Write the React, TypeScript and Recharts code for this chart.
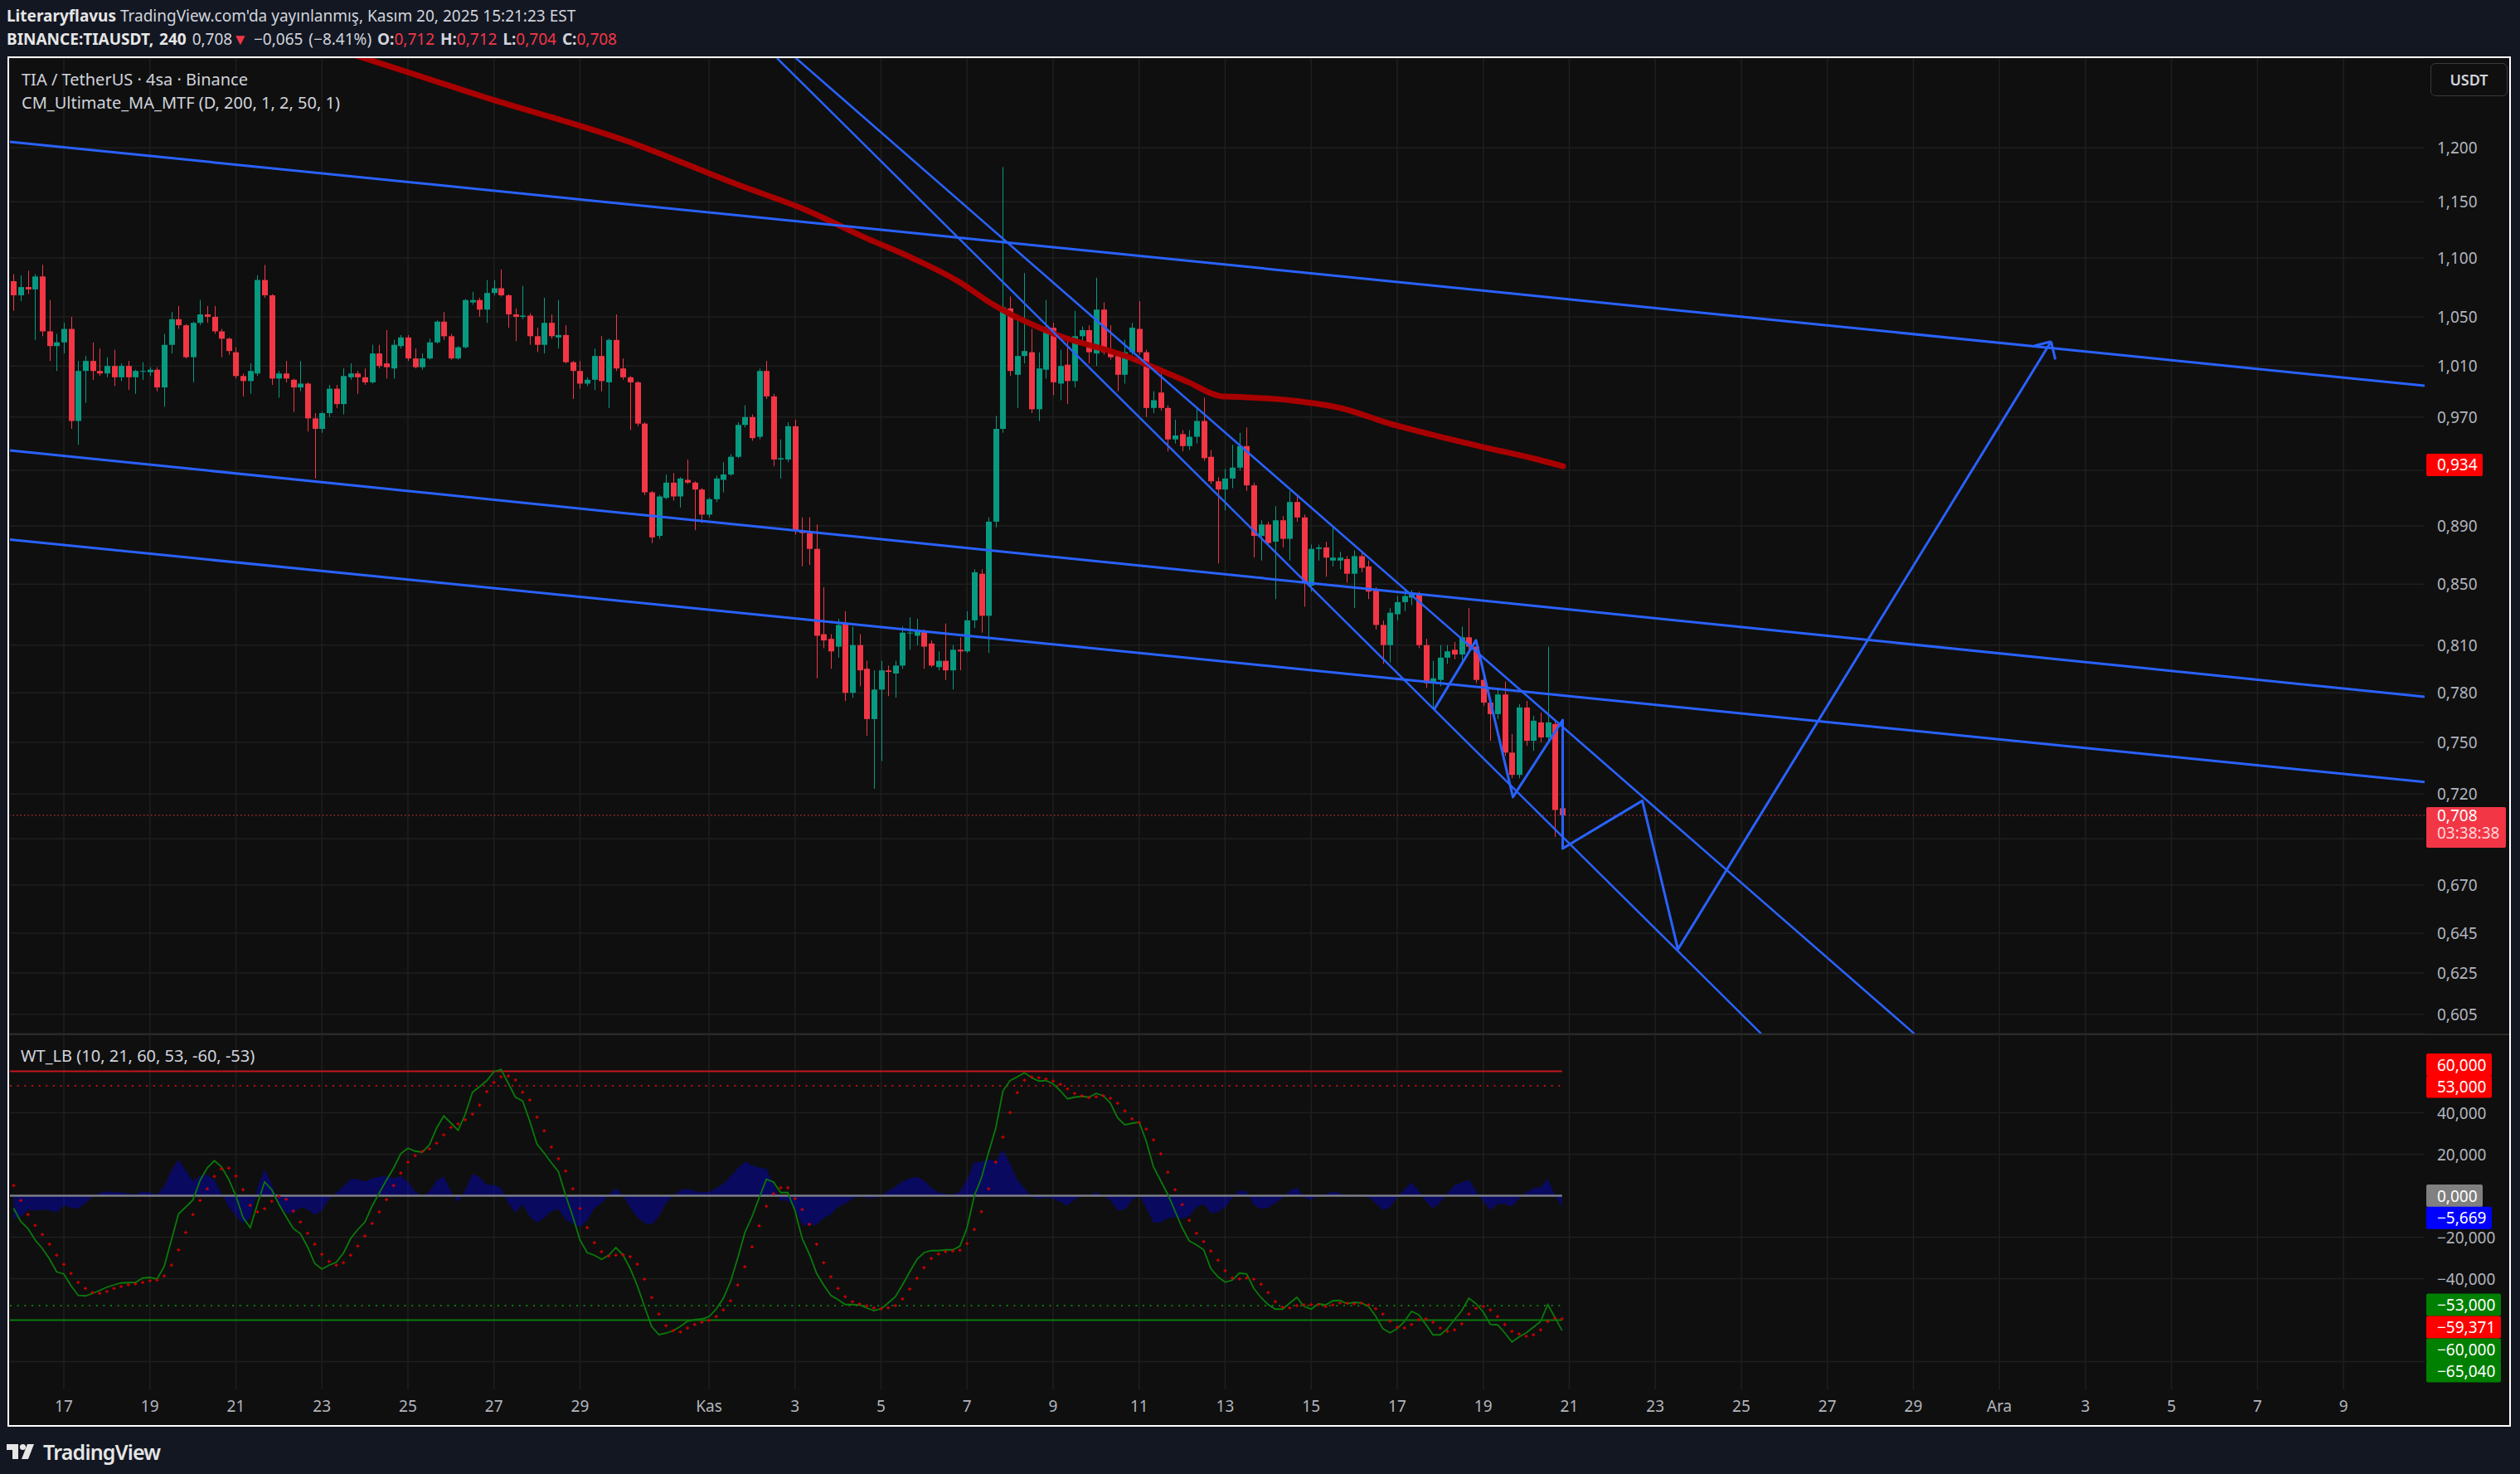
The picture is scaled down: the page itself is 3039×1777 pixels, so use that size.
import React from 'react';
import { ComposedChart, Bar, Line, Area, XAxis, YAxis, ReferenceLine, CartesianGrid } from 'recharts';

// TIA/USDT 4h candles, Binance. Time axis: days since 17 Oct 00:00
const firstCandleDay = -7 / 6;
const candleStep = 1 / 6;

// [open, high, low, close]
const ohlc: [number, number, number, number][] = [
  [1.080, 1.086, 1.055, 1.068], [1.068, 1.085, 1.063, 1.075], [1.075, 1.089, 1.069, 1.073], [1.073, 1.086, 1.031, 1.084],
  [1.084, 1.094, 1.034, 1.038], [1.038, 1.064, 1.014, 1.026], [1.026, 1.036, 1.006, 1.029], [1.029, 1.045, 1.020, 1.040],
  [1.040, 1.050, 0.961, 0.967], [0.967, 1.014, 0.949, 1.006], [1.006, 1.018, 0.981, 1.014], [1.014, 1.029, 0.999, 1.006],
  [1.006, 1.024, 1.002, 1.004], [1.004, 1.017, 1.001, 1.010], [1.010, 1.023, 0.994, 1.001], [1.001, 1.012, 0.998, 1.010],
  [1.010, 1.014, 0.991, 1.001], [1.001, 1.007, 0.988, 1.006], [1.006, 1.013, 0.999, 1.006], [1.005, 1.009, 1.002, 1.007],
  [1.007, 1.009, 0.990, 0.993], [0.993, 1.036, 0.978, 1.027], [1.027, 1.054, 1.020, 1.048], [1.048, 1.059, 1.040, 1.043],
  [1.043, 1.044, 1.016, 1.017], [1.017, 1.046, 0.997, 1.045], [1.045, 1.064, 1.043, 1.052], [1.052, 1.059, 1.045, 1.050],
  [1.050, 1.059, 1.036, 1.038], [1.038, 1.040, 1.017, 1.032], [1.032, 1.033, 1.019, 1.022], [1.021, 1.025, 1.000, 1.002],
  [1.002, 1.004, 0.986, 0.998], [0.998, 1.012, 0.988, 1.006], [1.004, 1.085, 1.002, 1.081], [1.081, 1.094, 1.066, 1.068],
  [1.068, 1.069, 0.995, 1.000], [1.000, 1.006, 0.985, 1.004], [1.004, 1.014, 0.997, 1.000], [0.999, 1.000, 0.974, 0.993],
  [0.993, 1.014, 0.990, 0.996], [0.996, 0.997, 0.959, 0.969], [0.969, 0.973, 0.924, 0.961], [0.961, 0.974, 0.958, 0.973],
  [0.973, 0.995, 0.970, 0.992], [0.992, 0.995, 0.977, 0.980], [0.980, 1.008, 0.972, 1.002], [1.001, 1.012, 0.999, 1.004],
  [1.004, 1.006, 0.988, 1.001], [1.001, 1.008, 0.995, 0.997], [0.997, 1.027, 0.996, 1.020], [1.020, 1.027, 1.008, 1.010],
  [1.012, 1.039, 1.000, 1.009], [1.008, 1.031, 1.000, 1.027], [1.026, 1.035, 1.024, 1.033], [1.033, 1.035, 1.014, 1.016],
  [1.016, 1.024, 1.008, 1.009], [1.009, 1.020, 1.007, 1.016], [1.016, 1.032, 1.015, 1.029], [1.029, 1.047, 1.028, 1.046],
  [1.046, 1.054, 1.031, 1.034], [1.034, 1.036, 1.015, 1.016], [1.016, 1.026, 1.015, 1.025], [1.025, 1.065, 1.024, 1.064],
  [1.062, 1.071, 1.060, 1.064], [1.064, 1.066, 1.050, 1.056], [1.056, 1.081, 1.045, 1.070], [1.070, 1.081, 1.068, 1.074],
  [1.074, 1.090, 1.067, 1.068], [1.068, 1.069, 1.041, 1.052], [1.052, 1.057, 1.030, 1.050], [1.050, 1.076, 1.048, 1.051],
  [1.051, 1.053, 1.027, 1.034], [1.034, 1.041, 1.021, 1.027], [1.027, 1.066, 1.020, 1.045], [1.045, 1.052, 1.032, 1.034],
  [1.033, 1.064, 1.024, 1.035], [1.035, 1.043, 1.012, 1.013], [1.013, 1.014, 0.984, 1.006], [1.006, 1.014, 0.992, 0.996],
  [0.996, 1.001, 0.994, 0.999], [0.999, 1.024, 0.991, 1.018], [1.018, 1.034, 0.990, 0.998], [0.997, 1.032, 0.977, 1.031],
  [1.031, 1.052, 1.006, 1.008], [1.008, 1.016, 0.999, 1.001], [1.001, 1.002, 0.960, 0.997], [0.997, 0.998, 0.963, 0.965],
  [0.965, 0.966, 0.912, 0.914], [0.914, 0.915, 0.878, 0.882], [0.883, 0.912, 0.881, 0.911], [0.910, 0.927, 0.909, 0.921],
  [0.921, 0.928, 0.908, 0.911], [0.911, 0.925, 0.903, 0.924], [0.923, 0.938, 0.920, 0.921], [0.921, 0.922, 0.887, 0.916],
  [0.916, 0.917, 0.892, 0.898], [0.898, 0.910, 0.896, 0.909], [0.909, 0.926, 0.907, 0.924], [0.923, 0.936, 0.914, 0.927],
  [0.927, 0.942, 0.926, 0.940], [0.940, 0.966, 0.939, 0.964], [0.964, 0.979, 0.962, 0.970], [0.970, 0.972, 0.952, 0.954],
  [0.955, 1.008, 0.953, 1.006], [1.006, 1.014, 0.984, 0.986], [0.986, 0.988, 0.933, 0.938], [0.938, 0.953, 0.924, 0.939],
  [0.938, 0.966, 0.936, 0.963], [0.963, 0.968, 0.884, 0.887], [0.887, 0.896, 0.862, 0.885], [0.885, 0.896, 0.863, 0.874],
  [0.874, 0.891, 0.789, 0.816], [0.817, 0.848, 0.808, 0.813], [0.814, 0.817, 0.795, 0.806], [0.809, 0.827, 0.802, 0.823],
  [0.824, 0.832, 0.775, 0.780], [0.780, 0.822, 0.777, 0.810], [0.810, 0.817, 0.784, 0.794], [0.795, 0.800, 0.754, 0.764],
  [0.764, 0.794, 0.723, 0.782], [0.782, 0.800, 0.739, 0.794], [0.794, 0.797, 0.778, 0.793], [0.792, 0.800, 0.777, 0.797],
  [0.797, 0.822, 0.795, 0.818], [0.818, 0.828, 0.807, 0.818], [0.816, 0.827, 0.810, 0.819], [0.819, 0.820, 0.795, 0.809],
  [0.811, 0.813, 0.796, 0.797], [0.796, 0.806, 0.794, 0.800], [0.800, 0.824, 0.788, 0.794], [0.794, 0.810, 0.782, 0.807],
  [0.807, 0.815, 0.794, 0.806], [0.806, 0.832, 0.805, 0.826], [0.826, 0.860, 0.821, 0.858], [0.857, 0.860, 0.818, 0.829],
  [0.829, 0.896, 0.805, 0.893], [0.893, 0.971, 0.889, 0.961], [0.961, 1.182, 0.958, 1.058], [1.057, 1.067, 1.002, 1.006],
  [1.003, 1.047, 0.977, 1.018], [1.018, 1.087, 1.012, 1.022], [1.021, 1.040, 0.973, 0.976], [0.976, 1.021, 0.967, 1.008],
  [1.007, 1.064, 1.000, 1.040], [1.041, 1.045, 0.987, 0.997], [0.996, 1.023, 0.983, 1.010], [1.011, 1.030, 0.980, 0.998],
  [0.998, 1.055, 0.993, 1.034], [1.034, 1.042, 1.030, 1.039], [1.039, 1.043, 1.012, 1.021], [1.020, 1.083, 1.010, 1.056],
  [1.056, 1.062, 1.019, 1.021], [1.021, 1.043, 1.015, 1.017], [1.018, 1.022, 0.990, 1.003], [1.003, 1.031, 0.996, 1.021],
  [1.021, 1.045, 1.019, 1.041], [1.040, 1.063, 1.019, 1.021], [1.021, 1.023, 0.970, 0.977], [0.977, 0.990, 0.973, 0.983],
  [0.989, 1.005, 0.975, 0.977], [0.977, 0.979, 0.944, 0.953], [0.953, 0.968, 0.950, 0.956], [0.957, 0.960, 0.944, 0.948],
  [0.948, 0.960, 0.945, 0.955], [0.955, 0.978, 0.950, 0.967], [0.967, 0.985, 0.937, 0.939], [0.940, 0.945, 0.920, 0.922],
  [0.922, 0.925, 0.864, 0.916], [0.916, 0.931, 0.901, 0.924], [0.924, 0.949, 0.917, 0.932], [0.932, 0.958, 0.930, 0.948],
  [0.948, 0.962, 0.915, 0.919], [0.919, 0.921, 0.868, 0.883], [0.883, 0.894, 0.866, 0.891], [0.891, 0.893, 0.876, 0.878],
  [0.879, 0.904, 0.840, 0.894], [0.894, 0.897, 0.875, 0.881], [0.881, 0.915, 0.866, 0.907], [0.907, 0.911, 0.893, 0.896],
  [0.896, 0.898, 0.835, 0.851], [0.849, 0.877, 0.845, 0.874], [0.874, 0.877, 0.866, 0.875], [0.875, 0.879, 0.855, 0.868],
  [0.866, 0.890, 0.862, 0.868], [0.866, 0.872, 0.860, 0.868], [0.867, 0.869, 0.851, 0.857], [0.857, 0.873, 0.834, 0.869],
  [0.869, 0.872, 0.858, 0.861], [0.862, 0.866, 0.840, 0.845], [0.846, 0.848, 0.820, 0.823], [0.823, 0.826, 0.798, 0.810],
  [0.810, 0.834, 0.799, 0.831], [0.830, 0.842, 0.826, 0.838], [0.838, 0.846, 0.832, 0.842], [0.841, 0.846, 0.836, 0.843],
  [0.843, 0.845, 0.808, 0.810], [0.810, 0.814, 0.783, 0.786], [0.786, 0.800, 0.770, 0.789], [0.788, 0.810, 0.784, 0.802],
  [0.802, 0.810, 0.798, 0.806], [0.807, 0.812, 0.801, 0.804], [0.804, 0.822, 0.800, 0.815], [0.815, 0.834, 0.806, 0.809],
  [0.809, 0.812, 0.786, 0.788], [0.788, 0.790, 0.772, 0.774], [0.774, 0.776, 0.751, 0.767], [0.767, 0.783, 0.764, 0.779],
  [0.779, 0.787, 0.742, 0.744], [0.744, 0.755, 0.729, 0.731], [0.731, 0.773, 0.729, 0.771], [0.771, 0.775, 0.748, 0.751],
  [0.751, 0.766, 0.745, 0.763], [0.762, 0.768, 0.750, 0.753], [0.753, 0.809, 0.750, 0.762], [0.761, 0.764, 0.696, 0.711],
  [0.712, 0.712, 0.704, 0.708],
];

// WT_LB oscillator, one value per candle
const wt1 = [
  -6.1, -12.5, -15.8, -21.4, -25.4, -30.5, -36.7, -37.8, -43.4, -48.1, -48.3, -47.1, -45.7, -44.1, -43.0, -42.1, -41.9, -41.8, -39.7, -39.4,
  -40.2, -34.1, -21.4, -8.7, -5.5, -2.1, 7.3, 13.4, 16.9, 13.9, 7.9, -0.1, -10.5, -15.4, -4.1, 6.6, 2.9, -4.1, -10.1, -15.8,
  -18.3, -24.7, -32.7, -35.4, -33.5, -32.1, -27.7, -20.7, -16.3, -12.7, -5.0, 1.3, 7.5, 13.3, 20.3, 22.9, 21.5, 21.0, 24.6, 32.6,
  38.5, 35.0, 31.5, 39.3, 49.9, 52.6, 55.5, 59.8, 60.9, 54.2, 47.5, 45.7, 35.9, 24.9, 20.6, 15.9, 11.5, 0.2, -10.1, -21.4,
  -27.4, -28.7, -30.7, -28.7, -25.0, -28.5, -35.1, -43.4, -53.4, -63.1, -67.0, -66.3, -65.1, -63.0, -60.5, -59.8, -59.4, -58.3, -54.7, -49.4,
  -41.4, -30.1, -17.8, -10.1, -1.0, 7.9, 6.6, 1.5, 1.5, -7.4, -20.7, -28.1, -37.4, -43.1, -48.1, -50.1, -52.5, -52.5, -52.7, -54.1,
  -55.4, -54.5, -51.7, -48.7, -42.9, -36.7, -30.7, -27.4, -26.5, -26.5, -26.1, -26.1, -24.3, -15.4, -0.1, 8.6, 20.9, 32.6, 50.5, 55.5,
  57.3, 59.3, 56.9, 55.3, 55.5, 53.9, 50.6, 46.7, 47.5, 47.9, 47.5, 49.3, 48.2, 44.6, 37.5, 34.2, 34.9, 35.5, 26.2, 13.9,
  7.3, 0.6, -7.4, -15.4, -21.8, -23.7, -26.1, -35.1, -39.1, -41.7, -40.7, -37.3, -37.7, -44.7, -49.1, -52.5, -54.7, -54.7, -51.8, -49.0,
  -53.4, -54.7, -52.1, -52.7, -50.7, -50.5, -52.1, -51.4, -51.7, -53.4, -58.1, -64.1, -66.1, -64.1, -60.7, -55.8, -57.4, -62.1, -67.1, -67.1,
  -64.1, -59.7, -55.4, -49.4, -52.1, -56.1, -62.1, -62.3, -66.1, -70.5, -68.1, -66.1, -63.4, -60.7, -52.5, -58.7, -65.04,
];
const wt2 = [
  4.9, -2.3, -9.1, -14.3, -18.7, -23.4, -28.7, -33.1, -37.5, -41.8, -44.7, -46.7, -47.1, -46.2, -44.7, -43.8, -43.0, -42.5, -41.8, -41.0,
  -40.7, -38.7, -33.5, -26.1, -17.7, -9.1, -2.3, 3.3, 9.3, 12.9, 13.3, 9.5, 2.9, -4.7, -7.8, -6.3, -2.7, -0.3, -1.7, -7.4,
  -12.7, -18.1, -23.4, -28.3, -31.7, -33.5, -32.3, -28.7, -24.3, -19.4, -13.4, -7.8, -1.9, 4.9, 10.9, 16.2, 19.3, 21.3, 22.6, 25.3,
  29.3, 32.9, 34.6, 36.6, 39.3, 43.7, 50.2, 54.6, 57.3, 57.7, 55.8, 49.9, 46.1, 37.9, 31.3, 23.5, 17.9, 11.9, 3.3, -6.1,
  -15.4, -22.7, -27.0, -29.1, -28.7, -28.5, -29.4, -33.0, -40.3, -49.1, -57.1, -62.7, -65.1, -65.7, -63.8, -62.1, -61.0, -60.1, -58.3, -55.1,
  -50.7, -43.1, -34.3, -24.7, -14.5, -5.1, 0.9, 3.9, 3.9, -1.4, -6.7, -13.8, -23.4, -32.3, -39.1, -44.7, -48.7, -51.1, -52.2, -53.1,
  -54.1, -54.5, -54.1, -53.0, -49.8, -45.0, -39.8, -34.7, -30.3, -28.1, -27.0, -26.7, -26.3, -23.1, -16.3, -7.7, 3.3, 16.2, 28.3, 40.1,
  49.7, 55.7, 57.3, 56.9, 56.3, 55.3, 53.7, 51.5, 49.3, 48.2, 47.3, 47.7, 48.2, 47.0, 44.6, 40.9, 37.1, 35.3, 32.1, 26.9,
  20.2, 11.3, 2.9, -4.3, -11.9, -18.1, -22.1, -26.7, -31.1, -36.1, -39.7, -40.1, -39.7, -40.3, -42.7, -46.7, -51.1, -53.7, -54.1, -53.0,
  -52.7, -52.5, -52.5, -53.4, -52.7, -51.7, -51.8, -52.1, -51.8, -52.7, -54.5, -57.1, -60.5, -63.4, -63.8, -62.1, -59.8, -59.4, -61.0, -63.8,
  -65.4, -64.7, -61.8, -57.1, -54.3, -53.4, -55.1, -58.3, -62.1, -65.4, -66.7, -67.8, -67.1, -64.7, -60.7, -59.1, -59.371,
];

// CM_Ultimate_MA_MTF (daily 200 MA) as drawn
const maDays = [6.23, 8.35, 9.72, 13.09, 15.69, 17.2, 18.68, 19.72, 20.82, 21.6, 23.04, 24.7, 26.14, 26.91, 27.36, 28.57, 29.69, 30.79, 31.89, 33.01, 34.11, 34.86];
const maValues = [1.299, 1.269, 1.25, 1.2065, 1.1653, 1.1434, 1.117, 1.1, 1.0793, 1.0603, 1.0358, 1.0178, 0.9972, 0.9861, 0.9855, 0.9827, 0.9769, 0.9654, 0.9559, 0.9472, 0.9392, 0.933];

// drawings: [day, price]
const channelLines: [number, number][][] = [
  [[-1.253, 1.2058], [54.887, 0.9943]],
  [[-1.253, 0.9448], [54.887, 0.7776]],
  [[-1.253, 0.8804], [54.887, 0.7269]],
];
const steepLines: [number, number][][] = [
  [[16.58, 1.2883], [39.46, 0.5958]],
  [[17.02, 1.2883], [43.02, 0.5958]],
];
const zigzag: [number, number][] = [
  [31.849, 0.7694], [32.832, 0.8131], [33.69, 0.7183], [34.847, 0.7634], [34.847, 0.6897],
  [36.698, 0.7162], [37.527, 0.6369], [46.202, 1.0297],
];
const arrowHead: [number, number][][] = [
  [[45.81, 1.0261], [46.202, 1.0297]],
  [[46.3, 1.0152], [46.202, 1.0297]],
];

const dayTicks = [0, 2, 4, 6, 8, 10, 12, 15, 17, 19, 21, 23, 25, 27, 29, 31, 33, 35, 37, 39, 41, 43, 45, 47, 49, 51, 53];
const dayLabels = ['17', '19', '21', '23', '25', '27', '29', 'Kas', '3', '5', '7', '9', '11', '13', '15', '17', '19', '21', '23', '25', '27', '29', 'Ara', '3', '5', '7', '9'];
const priceTicks = [1.2, 1.15, 1.1, 1.05, 1.01, 0.97, 0.93, 0.89, 0.85, 0.81, 0.78, 0.75, 0.72, 0.695, 0.67, 0.645, 0.625, 0.605];
const coveredPriceTicks = [0.93, 0.695];
const oscTicks = [40, 20, -20, -40];
const oscGrid = [40, 20, -20, -40, -80];

const maLast = 0.934;
const lastClose = 0.708;
const oscLevels = { ob: 60, obDot: 53, os: -60, osDot: -53 };
const oscBoxes = [
  { v: 60, text: '60,000', bg: '#ff0000', shift: -8 },
  { v: 53, text: '53,000', bg: '#ff0000', shift: 1 },
  { v: 0, text: '0,000', bg: '#808080', shift: 0 },
  { v: -5.669, text: '−5,669', bg: '#0000ff', shift: 12.5 },
  { v: -53, text: '−53,000', bg: '#008000', shift: -1 },
  { v: -59.371, text: '−59,371', bg: '#ff0000', shift: 10 },
  { v: -60, text: '−60,000', bg: '#008000', shift: 35.5 },
  { v: -65.04, text: '−65,040', bg: '#008000', shift: 49 },
];

const xDomain: [number, number] = [-1.253, 54.887];
const UP = '#089981';
const DOWN = '#f23645';
const BLUE = '#2962ff';
const GRID = '#1f1f1f';
const AXIS_TXT = '#b2b5be';
const FONT = '"Noto Sans", "Open Sans", sans-serif';
const BODY_W = 7;

const candleRows = ohlc.map(([o, h, l, c], i) => ({ t: firstCandleDay + i * candleStep, range: [l, h], o, h, l, c }));
const oscRows = wt1.map((v, i) => ({ t: firstCandleDay + i * candleStep, wt1: v, wt2: wt2[i], diff: v - wt2[i] }));
const lastT = firstCandleDay + (ohlc.length - 1) * candleStep;
const maRows = maDays.map((t, i) => ({ t, ma: maValues[i] }));
const zigRows = zigzag.map(([t, p]) => ({ t, p }));

const fmt = (v: number) => (v < 0 ? '−' : '') + Math.abs(v).toFixed(3).replace('.', ',');

const Candle = (props: any) => {
  const { x, y, width, height, payload } = props;
  if (x == null || y == null) return <g />;
  const { o, h, l, c } = payload;
  const color = c >= o ? UP : DOWN;
  const top = Math.min(y, y + height);
  const hh = Math.abs(height);
  const lh = Math.log(h);
  const span = lh - Math.log(l) || 1;
  const py = (p: number) => top + (hh * (lh - Math.log(p))) / span;
  const bTop = py(Math.max(o, c));
  const bBot = py(Math.min(o, c));
  const cx = Math.round(x + width / 2) + 0.5;
  return (
    <g>
      <line x1={cx} x2={cx} y1={top} y2={top + hh} stroke={color} strokeWidth={1} />
      <rect x={cx - BODY_W / 2} y={bTop} width={BODY_W} height={Math.max(1, bBot - bTop)} fill={color} />
    </g>
  );
};

const PriceTick = (props: any) => {
  const { x, y, payload } = props;
  if (coveredPriceTicks.includes(payload.value)) return <g />;
  return (
    <text x={x} y={y} fill={AXIS_TXT} fontSize={19} fontFamily={FONT} dominantBaseline="central">
      {fmt(payload.value)}
    </text>
  );
};

const OscTick = (props: any) => {
  const { x, y, payload } = props;
  return (
    <text x={x} y={y} fill={AXIS_TXT} fontSize={19} fontFamily={FONT} dominantBaseline="central">
      {fmt(payload.value)}
    </text>
  );
};

const boxLabel = (lines: string[], bg: string, shift: number, w: number, h: number, top: number) => (props: any) => {
  const vb = props.viewBox || {};
  const x = vb.x + vb.width + 2;
  const y = vb.y + shift;
  return (
    <g>
      <rect x={x} y={y - top} width={w} height={h} rx={2} fill={bg} />
      {lines.map((s, k) => (
        <text key={k} x={x + 13} y={y + k * 21} fill={k === 0 ? '#ffffff' : '#ffd6da'} fontSize={19} fontFamily={FONT} dominantBaseline="central">
          {s}
        </text>
      ))}
    </g>
  );
};

const crossDot = (p: any) => {
  const { cx, cy, index } = p;
  if (cx == null || cy == null) return <g key={`d${index}`} />;
  return <path key={`d${index}`} d={`M${cx - 2},${cy}H${cx + 2}M${cx},${cy - 2}V${cy + 2}`} stroke="#d00000" strokeWidth={1.3} />;
};

const seg = (a: [number, number], b: [number, number]) => [{ x: a[0], y: a[1] }, { x: b[0], y: b[1] }] as any;

const legendStyle: React.CSSProperties = { position: 'absolute', fontSize: 20, color: '#d1d4dc', whiteSpace: 'nowrap' };

const App: React.FC = () => {
  return (
    <div style={{ position: 'relative', width: 3039, height: 1777, background: '#131722', overflow: 'hidden', fontFamily: FONT }}>
      <style>{'body{margin:0;}'}</style>

      {/* header */}
      <div style={{ position: 'absolute', left: 8, top: 6, fontSize: 19, color: '#d1d4dc', whiteSpace: 'nowrap' }}>
        <b style={{ color: '#e6e6e6' }}>Literaryflavus</b> TradingView.com'da yayınlanmış, Kasım 20, 2025 15:21:23 EST
      </div>
      <div style={{ position: 'absolute', left: 8, top: 34, fontSize: 19, color: '#d1d4dc', whiteSpace: 'nowrap', wordSpacing: 2 }}>
        <b style={{ color: '#e6e6e6' }}>BINANCE:TIAUSDT, 240</b> 0,708<span style={{ color: DOWN }}>▼</span> −0,065 (−8.41%){' '}
        <b>O:</b><span style={{ color: DOWN }}>0,712</span> <b>H:</b><span style={{ color: DOWN }}>0,712</span>{' '}
        <b>L:</b><span style={{ color: DOWN }}>0,704</span> <b>C:</b><span style={{ color: DOWN }}>0,708</span>
      </div>

      {/* frame */}
      <div style={{ position: 'absolute', left: 9, top: 68, width: 3019, height: 1652, border: '2px solid #ffffff', boxSizing: 'border-box', background: '#0f0f0f' }} />

      {/* price pane */}
      <div style={{ position: 'absolute', left: 12, top: 70 }}>
        <ComposedChart width={3014} height={1176} data={candleRows} margin={{ top: 0, right: 0, bottom: 0, left: 0 }}>
          <CartesianGrid stroke={GRID} strokeWidth={1.5} {...({ verticalValues: dayTicks } as any)} />
          <XAxis dataKey="t" type="number" domain={xDomain} allowDataOverflow hide ticks={dayTicks} />
          <YAxis
            orientation="right"
            width={102}
            scale="log"
            domain={[0.595829, 1.28832]}
            allowDataOverflow
            ticks={priceTicks}
            interval={0}
            axisLine={false}
            tickLine={false}
            tickSize={0}
            tickMargin={15}
            tick={<PriceTick />}
          />
          <ReferenceLine y={lastClose} stroke={DOWN} strokeDasharray="1.5 3" strokeWidth={1} label={boxLabel(['0,708', '03:38:38'], DOWN, 0, 96, 49, 10)} />
          <Bar dataKey="range" barSize={7} shape={<Candle />} isAnimationActive={false} />
          <Line data={maRows} dataKey="ma" type="monotone" stroke="#a80000" strokeWidth={7} strokeLinecap="round" dot={false} isAnimationActive={false} />
          {channelLines.map(([a, b], k) => (
            <ReferenceLine key={`ch${k}`} segment={seg(a, b)} stroke={BLUE} strokeWidth={3} ifOverflow="hidden" />
          ))}
          {steepLines.map(([a, b], k) => (
            <ReferenceLine key={`st${k}`} segment={seg(a, b)} stroke={BLUE} strokeWidth={2.5} ifOverflow="hidden" />
          ))}
          <Line data={zigRows} dataKey="p" stroke={BLUE} strokeWidth={3} strokeLinejoin="round" dot={false} isAnimationActive={false} />
          {arrowHead.map(([a, b], k) => (
            <ReferenceLine key={`ah${k}`} segment={seg(a, b)} stroke={BLUE} strokeWidth={3} ifOverflow="hidden" />
          ))}
          <ReferenceLine y={maLast} stroke="none" label={boxLabel(['0,934'], '#ff0000', 0, 68, 27, 13.5)} />
        </ComposedChart>
      </div>

      {/* legends */}
      <div style={{ ...legendStyle, left: 26, top: 82 }}>TIA / TetherUS · 4sa · Binance</div>
      <div style={{ ...legendStyle, left: 26, top: 110 }}>CM_Ultimate_MA_MTF (D, 200, 1, 2, 50, 1)</div>
      <div style={{ position: 'absolute', left: 2931, top: 76, width: 93, height: 40, border: '1px solid #3a3a3a', borderRadius: 6, boxSizing: 'border-box', color: '#d1d4dc', fontSize: 18, fontWeight: 600, display: 'flex', alignItems: 'center', justifyContent: 'center', background: '#0f0f0f' }}>USDT</div>

      {/* pane separator */}
      <div style={{ position: 'absolute', left: 11, top: 1246, width: 3015, height: 2, background: '#2a2a2a' }} />

      {/* oscillator pane */}
      <div style={{ position: 'absolute', left: 12, top: 1248 }}>
        <ComposedChart width={3014} height={470} data={oscRows} margin={{ top: 0, right: 0, bottom: 0, left: 0 }}>
          <CartesianGrid stroke={GRID} strokeWidth={1.5} {...({ horizontalValues: oscGrid, verticalValues: dayTicks } as any)} />
          <XAxis
            dataKey="t"
            type="number"
            domain={xDomain}
            allowDataOverflow
            ticks={dayTicks}
            interval={0}
            height={43}
            axisLine={false}
            tickLine={false}
            tickSize={0}
            tickMargin={14}
            tick={{ fill: AXIS_TXT, fontSize: 19, fontFamily: FONT }}
            tickFormatter={(v: number) => dayLabels[dayTicks.indexOf(v)] ?? ''}
          />
          <YAxis
            orientation="right"
            width={102}
            domain={[-93.4, 77.4]}
            allowDataOverflow
            ticks={oscTicks}
            interval={0}
            axisLine={false}
            tickLine={false}
            tickSize={0}
            tickMargin={15}
            tick={<OscTick />}
          />
          <Area dataKey="diff" baseValue={0} fill="#0000ff" fillOpacity={0.34} stroke="none" isAnimationActive={false} />
          <ReferenceLine segment={seg([xDomain[0], oscLevels.ob], [lastT, oscLevels.ob])} stroke="#c4161c" strokeWidth={2} />
          <ReferenceLine segment={seg([xDomain[0], oscLevels.obDot], [lastT, oscLevels.obDot])} stroke="#b81010" strokeWidth={2} strokeDasharray="2 6.645" />
          <ReferenceLine segment={seg([xDomain[0], 0], [lastT, 0])} stroke="#7d7f88" strokeWidth={2.5} />
          <ReferenceLine segment={seg([xDomain[0], oscLevels.osDot], [lastT, oscLevels.osDot])} stroke="#0c7a0c" strokeWidth={2} strokeDasharray="2 6.645" />
          <ReferenceLine segment={seg([xDomain[0], oscLevels.os], [lastT, oscLevels.os])} stroke="#0c7a0c" strokeWidth={2} />
          <Line dataKey="wt1" stroke="#0a7a0a" strokeWidth={1.8} dot={false} isAnimationActive={false} />
          <Line dataKey="wt2" stroke="none" dot={crossDot} isAnimationActive={false} />
          {oscBoxes.map((b) => (
            <ReferenceLine
              key={b.text}
              y={b.v}
              stroke="none"
              ifOverflow="visible"
              label={boxLabel([b.text], b.bg, b.shift, 13 + b.text.length * 11, 27, 13.5)}
            />
          ))}
        </ComposedChart>
      </div>
      <div style={{ ...legendStyle, left: 25, top: 1259 }}>WT_LB (10, 21, 60, 53, -60, -53)</div>

      {/* footer logo */}
      <svg style={{ position: 'absolute', left: 0, top: 1730 }} width={60} height={40}>
        <path d="M8,11 H22 V29 H15 V18 H8 Z" fill="#e6e6e6" />
        <circle cx={27.5} cy={14.5} r={3.6} fill="#e6e6e6" />
        <path d="M33,11 H41 L34,29 H26 Z" fill="#e6e6e6" />
      </svg>
      <div style={{ position: 'absolute', left: 52, top: 1733, fontSize: 25, fontWeight: 600, color: '#e6e6e6', letterSpacing: -0.8 }}>TradingView</div>
    </div>
  );
};

export default App;
